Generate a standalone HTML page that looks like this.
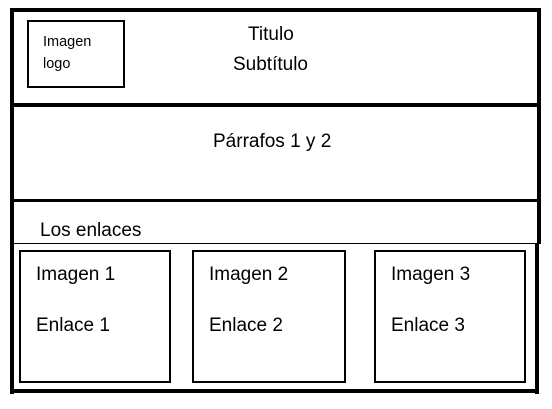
<!DOCTYPE html>
<html><head><style>
body{margin:0;width:552px;height:409px;background:#fff;position:relative;overflow:hidden;font-family:"Liberation Sans",sans-serif;color:#000}
div{position:absolute;box-sizing:border-box}
.t{white-space:nowrap;font-size:19px;line-height:20px}
.h{background:#000}
</style></head><body>
<div class="h" style="left:10px;top:8px;width:531px;height:4px"></div>
<div class="h" style="left:10px;top:8px;width:4px;height:386px"></div>
<div class="h" style="left:537px;top:8px;width:4px;height:236px"></div>
<div class="h" style="left:535px;top:243px;width:4px;height:151px"></div>
<div class="h" style="left:10px;top:389px;width:529px;height:4px"></div>
<div class="h" style="left:10px;top:103px;width:531px;height:4px"></div>
<div class="h" style="left:10px;top:199px;width:531px;height:3px"></div>
<div class="h" style="left:10px;top:243px;width:531px;height:1px"></div>
<div style="left:27px;top:20px;width:98px;height:68px;border:2px solid #000"></div>
<div class="t" style="left:43px;top:32px;font-size:14.5px">Imagen</div>
<div class="t" style="left:43px;top:54px;font-size:14.5px">logo</div>
<div class="t" style="left:248px;top:25px">Titulo</div>
<div class="t" style="left:233px;top:55px">Subtítulo</div>
<div class="t" style="left:213px;top:132px">Párrafos 1 y 2</div>
<div class="t" style="left:40px;top:221px">Los enlaces</div>
<div style="left:19px;top:250px;width:152px;height:133px;border:2px solid #000"></div>
<div style="left:192px;top:250px;width:154px;height:133px;border:2px solid #000"></div>
<div style="left:374px;top:250px;width:152px;height:133px;border:2px solid #000"></div>
<div class="t" style="left:36px;top:265px">Imagen 1</div>
<div class="t" style="left:36px;top:316px">Enlace 1</div>
<div class="t" style="left:209px;top:265px">Imagen 2</div>
<div class="t" style="left:209px;top:316px">Enlace 2</div>
<div class="t" style="left:391px;top:265px">Imagen 3</div>
<div class="t" style="left:391px;top:316px">Enlace 3</div>
</body></html>
